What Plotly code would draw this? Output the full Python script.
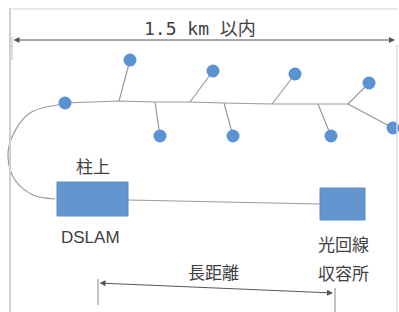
import plotly.graph_objects as go

# Node (leaf) positions in pixel space of the diagram
node_x = [130, 213, 295, 369, 65, 160, 233, 331, 393]
node_y = [60, 71, 74, 83, 103, 136, 136, 136, 128]

# Main trunk line
trunk_x = [65, 119, 155, 190, 224, 272, 318, 348]
trunk_y = [103, 101, 102, 102, 103, 104, 104, 104]

# Branch start points on trunk -> node index
branch_from_x = [119, 155, 190, 224, 272, 318, 348, 348]
branch_from_y = [101, 102, 102, 103, 104, 104, 104, 104]
branch_to = [0, 5, 1, 6, 2, 7, 3, 8]

# Loop curve back to DSLAM
curve_x = [65, 30, 12, 8, 15, 33, 55]
curve_y = [104, 113, 137, 157, 180, 195, 199]

# Cable between DSLAM and station
cable_x = [128, 320]
cable_y = [200, 204]

# Boxes: x0, x1, y0, y1
boxes = [(57, 128, 182, 216), (320, 365, 188, 220)]

labels = ["柱上", "DSLAM", "光回線", "収容所", "長距離", "1.5 km 以内"]
label_x = [93, 90, 343, 343, 213, 200]
label_y = [165, 237, 243, 272, 271, 28]

LINE = "#9a9a9a"
NODE = "#5B92D2"
BOX = "#6495CF"
TXT = "#404040"

fig = go.Figure()

# frame
fig.add_shape(type="line", x0=10, x1=10, y0=8, y1=320, line=dict(color="#d0d0d0", width=2))
fig.add_shape(type="line", x0=10, x1=397, y0=9, y1=9, line=dict(color="#e0e0e0", width=1.5))
fig.add_shape(type="line", x0=397, x1=397, y0=45, y1=320, line=dict(color="#d8d8d8", width=1.5))

fig.add_trace(go.Scatter(x=curve_x, y=curve_y, mode="lines",
                         line=dict(color=LINE, width=1.2, shape="spline"), hoverinfo="skip"))
fig.add_trace(go.Scatter(x=trunk_x, y=trunk_y, mode="lines",
                         line=dict(color=LINE, width=1.2), hoverinfo="skip"))
for fx, fy, ti in zip(branch_from_x, branch_from_y, branch_to):
    fig.add_trace(go.Scatter(x=[fx, node_x[ti]], y=[fy, node_y[ti]], mode="lines",
                             line=dict(color=LINE, width=1.2), hoverinfo="skip"))
fig.add_trace(go.Scatter(x=cable_x, y=cable_y, mode="lines",
                         line=dict(color=LINE, width=1.2), hoverinfo="skip"))

for x0, x1, y0, y1 in boxes:
    fig.add_shape(type="rect", x0=x0, x1=x1, y0=y0, y1=y1,
                  fillcolor=BOX, line=dict(color="#5a8bc4", width=1))

fig.add_trace(go.Scatter(x=node_x, y=node_y, mode="markers",
                         marker=dict(color=NODE, size=13, line=dict(width=0)), hoverinfo="skip"))

# dimension lines
fig.add_shape(type="line", x0=12, x1=12, y0=37, y1=60, line=dict(color="#bbbbbb", width=1))
fig.add_annotation(x=395, y=40, ax=12, ay=40, xref="x", yref="y", axref="x", ayref="y",
                   text="", showarrow=True, arrowhead=2, arrowside="end+start",
                   arrowsize=1.2, arrowwidth=1, arrowcolor="#555555")
fig.add_shape(type="line", x0=98, x1=98, y0=279, y1=305, line=dict(color="#888888", width=1))
fig.add_shape(type="line", x0=335, x1=335, y0=288, y1=312, line=dict(color="#888888", width=1))
fig.add_annotation(x=333, y=293, ax=98, ay=283, xref="x", yref="y", axref="x", ayref="y",
                   text="", showarrow=True, arrowhead=2, arrowside="end+start",
                   arrowsize=1.2, arrowwidth=1, arrowcolor="#555555")

for t, x, y in zip(labels, label_x, label_y):
    if t == "DSLAM":
        fam, size = "Liberation Sans, Arial", 17
    elif t.startswith("1.5"):
        fam, size = "DejaVu Sans Mono, Noto Sans CJK JP", 18
    else:
        fam, size = "Noto Sans CJK JP", 17
    fig.add_annotation(x=x, y=y, xref="x", yref="y", text=t, showarrow=False,
                       font=dict(family=fam, size=size, color=TXT),
                       xanchor="center", yanchor="middle")

fig.update_xaxes(range=[0, 399], visible=False, fixedrange=True)
fig.update_yaxes(range=[312, 0], visible=False, fixedrange=True)
fig.update_layout(width=399, height=312, margin=dict(l=0, r=0, t=0, b=0),
                  paper_bgcolor="white", plot_bgcolor="white", showlegend=False)

fig.write_html("out.html", config={"displayModeBar": False},
               post_script="document.body.style.margin='0';document.body.style.padding='0';")
